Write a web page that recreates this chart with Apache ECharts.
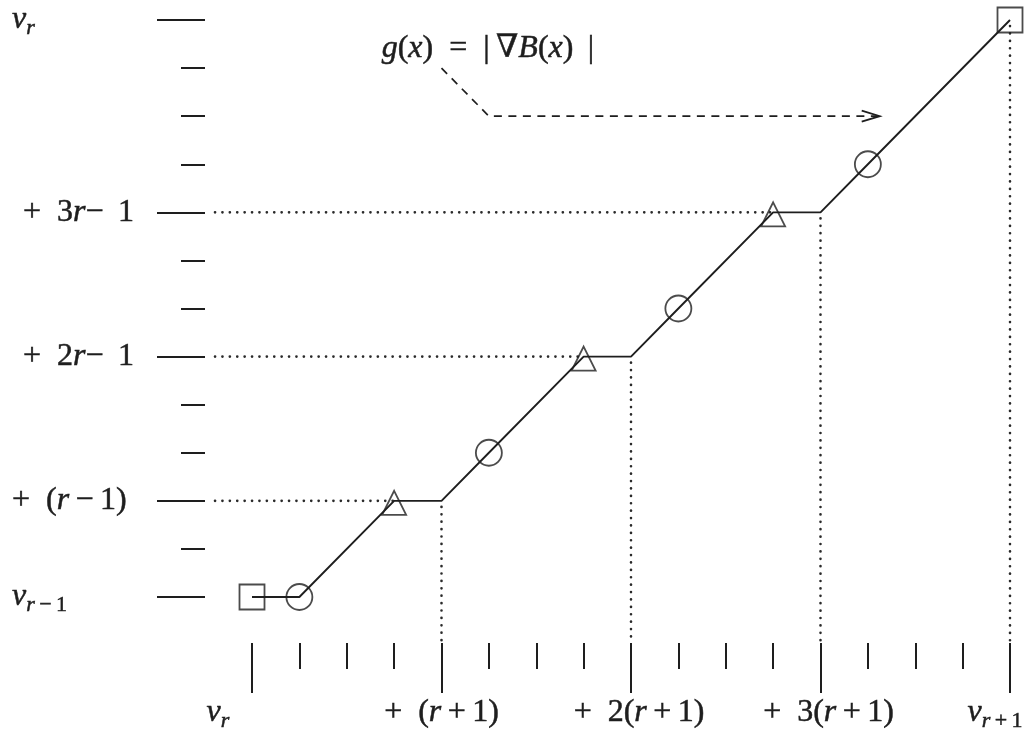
<!DOCTYPE html>
<html>
<head>
<meta charset="utf-8">
<script src="https://cdn.jsdelivr.net/npm/echarts@6/dist/echarts.min.js"></script>
<style>
  html, body { margin: 0; padding: 0; background: #ffffff; }
  #chart { width: 1026px; height: 734px; }
</style>
</head>
<body>
<div id="chart"></div>
<script>
// Staircase g(x): unit-slope ramps joined by flat plateaus
const pathX = [0, 1, 3, 4, 5, 7, 8, 9, 11, 12, 13, 16];
const pathY = [0, 0, 2, 2, 3, 5, 5, 6, 8, 8, 9, 12];

// Marker positions along the path
const squareX = [0, 16];
const squareY = [0, 12];
const circleX = [1, 5, 9, 13];
const circleY = [0, 3, 6, 9];
const triangleX = [3, 7, 11];
const triangleY = [2, 5, 8];

// Ends of plateaus that get a dotted drop to the x ticks
const dropX = [4, 8, 12, 16];
const dropY = [2, 5, 8, 12];

// Axis extents and ticks
const xMax = 16;
const yMax = 12;
const xMajorStep = 4;
const xMajor = [0, 4, 8, 12, 16];
const yMajor = [0, 2, 5, 8, 12];

// Tick labels (rich-text markup)
const xTickLabels = [
  '{i|v}{sL|r}',
  '{n|+  (}{i|r}{n|\u2009+\u20091)}',
  '{nR|+  2(}{i|r}{n|\u2009+\u20091)}',
  '{nR|+  3(}{i|r}{n|\u2009+\u20091)}',
  '{i|v}{s|r}{suL|\u2009+\u20091}'
];
const yTickLabels = [
  '{i|v}{s|r}{su|\u2009\u2212\u20091}',
  '{n|+  (}{i|r}{n|\u2009\u2212\u20091)}',
  '{nI|+  2}{i|r}{n|\u2212\u2009 1}',
  '{nI|+  3}{i|r}{n|\u2212\u2009 1}',
  '{i|v}{s|r}'
];

// Callout: dashed leader from the formula to the curve
const calloutX = [4, 5, 13.25];
const calloutY = [11, 10, 10];
const calloutTextAt = [4.98, 11.4];
const calloutText = '{i|g}{n|(}{i|x}{n|)}{n|  =  |\u2009\u2207}{i|B}{n|(}{i|x}{n|)\u2009 |}';

const SERIF = '"Liberation Serif", "DejaVu Serif", serif';
const INK = '#1e1e1e';

// rich styles for axis labels (ECharts label option names)
function makeRich(strokeKey, widthKey) {
  const base = { fontFamily: SERIF, color: INK };
  base[strokeKey] = INK;
  base[widthKey] = 0.5;
  const mk = extra => Object.assign({}, base, extra);
  return {
    n:   mk({ fontSize: 32, lineHeight: 34 }),
    nR:  mk({ fontSize: 32, lineHeight: 34, padding: [0, 0, 0, 16] }),
    nI:  mk({ fontSize: 32, lineHeight: 34, padding: [0, 0, 0, 11] }),
    i:   mk({ fontSize: 32, lineHeight: 34, fontStyle: 'italic' }),
    s:   mk({ fontSize: 22, lineHeight: 24, fontStyle: 'italic', padding: [16, 0, 0, 0] }),
    sL:  mk({ fontSize: 22, lineHeight: 24, fontStyle: 'italic', padding: [16, 68, 0, 0] }),
    su:  mk({ fontSize: 22, lineHeight: 24, padding: [16, 0, 0, 0] }),
    suL: mk({ fontSize: 22, lineHeight: 24, padding: [16, 30, 0, 0] })
  };
}
const rich = makeRich('textBorderColor', 'textBorderWidth');
// same styles with the zrender property names used by custom-series text
const richZr = (() => {
  const r = makeRich('stroke', 'lineWidth');
  Object.keys(r).forEach(k => { r[k].fill = r[k].color; delete r[k].color; });
  return r;
})();

const tickLine = { color: INK, width: 2 };
const dotStyle = { stroke: '#2a2a2a', lineWidth: 2.6, lineDash: [0.1, 7.3], lineCap: 'round', fill: null };
const hollow = { color: 'rgba(0,0,0,0)', borderColor: INK, borderWidth: 1.8 };

const zip = (xs, ys) => xs.map((x, k) => [x, ys[k]]);

const chart = echarts.init(document.getElementById('chart'), null, { renderer: 'canvas' });

chart.setOption({
  animation: false,
  backgroundColor: '#ffffff',
  grid: { left: 252, right: 16, top: 20, bottom: 137, containLabel: false, outerBoundsMode: 'none' },
  xAxis: [
    {
      type: 'value', min: 0, max: xMax, interval: 1, position: 'bottom', offset: 46,
      axisLine: { show: false, onZero: false },
      axisTick: { show: true, length: 26, lineStyle: tickLine },
      axisLabel: { show: false },
      splitLine: { show: false }
    },
    {
      type: 'value', min: 0, max: xMax, interval: xMajorStep, position: 'bottom', offset: 46,
      axisLine: { show: false, onZero: false },
      axisTick: { show: true, length: 50, lineStyle: tickLine },
      axisLabel: {
        show: true, margin: 70, verticalAlign: 'middle', align: 'center',
        showMinLabel: true, showMaxLabel: true, hideOverlap: false,
        formatter: v => xTickLabels[xMajor.indexOf(v)] || '',
        rich: rich
      },
      splitLine: { show: false }
    }
  ],
  yAxis: [
    {
      type: 'value', min: 0, max: yMax, interval: 1, position: 'left', offset: 47,
      axisLine: { show: false, onZero: false },
      axisTick: { show: true, length: 24, lineStyle: tickLine },
      axisLabel: { show: false },
      splitLine: { show: false }
    },
    {
      type: 'value', min: 0, max: yMax, position: 'left', offset: 47,
      axisLine: { show: false, onZero: false },
      axisTick: { show: true, length: 48, lineStyle: tickLine, customValues: yMajor },
      axisLabel: {
        show: true, margin: 193, align: 'left', verticalAlign: 'middle',
        customValues: yMajor, showMinLabel: true, showMaxLabel: true, hideOverlap: false,
        formatter: v => yTickLabels[yMajor.indexOf(v)] || '',
        rich: rich
      },
      splitLine: { show: false }
    }
  ],
  series: [
    {
      // dotted guides from the y ticks across to each triangle
      type: 'custom', silent: true, z: 1,
      data: zip(triangleX, triangleY),
      renderItem: (params, api) => {
        const p = api.coord([api.value(0), api.value(1)]);
        const left = params.coordSys.x - 37;
        return { type: 'line', shape: { x1: left, y1: p[1], x2: p[0], y2: p[1] }, style: dotStyle };
      }
    },
    {
      // dotted drops from plateau ends down to the x ticks
      type: 'custom', silent: true, z: 1,
      data: zip(dropX, dropY),
      renderItem: (params, api) => {
        const p = api.coord([api.value(0), api.value(1)]);
        const bottom = params.coordSys.y + params.coordSys.height + 46;
        return { type: 'line', shape: { x1: p[0], y1: p[1] + 6, x2: p[0], y2: bottom }, style: dotStyle };
      }
    },
    {
      type: 'line', silent: true, z: 3, clip: false,
      data: zip(pathX, pathY),
      symbol: 'none',
      lineStyle: { color: INK, width: 1.9 }
    },
    {
      type: 'scatter', silent: true, z: 4, clip: false,
      data: zip(squareX, squareY),
      symbol: 'rect', symbolSize: 25,
      itemStyle: hollow
    },
    {
      type: 'scatter', silent: true, z: 4, clip: false,
      data: zip(circleX, circleY),
      symbol: 'circle', symbolSize: 26,
      itemStyle: hollow
    },
    {
      type: 'scatter', silent: true, z: 4, clip: false,
      data: zip(triangleX, triangleY),
      symbol: 'triangle', symbolSize: 24, symbolOffset: [0, 2],
      itemStyle: hollow
    },
    {
      // dashed callout leader
      type: 'line', silent: true, z: 2, clip: false,
      data: zip(calloutX, calloutY),
      symbol: 'none',
      lineStyle: { color: INK, width: 1.7, type: [8, 6.5] }
    },
    {
      // open arrowhead at the end of the leader
      type: 'custom', silent: true, z: 2,
      data: [[calloutX[calloutX.length - 1], calloutY[calloutY.length - 1]]],
      renderItem: (params, api) => {
        const p = api.coord([api.value(0), api.value(1)]);
        return {
          type: 'polyline',
          shape: { points: [[p[0] - 18, p[1] - 5.5], [p[0], p[1]], [p[0] - 18, p[1] + 5.5]] },
          style: { stroke: INK, lineWidth: 1.8, fill: null }
        };
      }
    },
    {
      // formula text of the callout
      type: 'custom', silent: true, z: 5,
      data: [calloutTextAt],
      renderItem: (params, api) => {
        const p = api.coord([api.value(0), api.value(1)]);
        return {
          type: 'text', x: p[0], y: p[1],
          style: { text: calloutText, rich: richZr, align: 'center', verticalAlign: 'middle' }
        };
      }
    }
  ]
});
</script>
</body>
</html>
